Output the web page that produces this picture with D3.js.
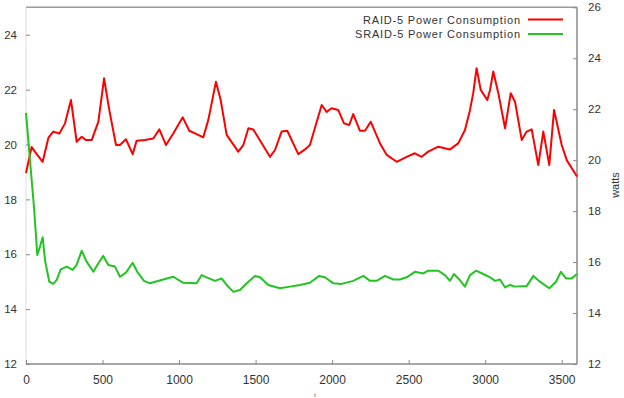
<!DOCTYPE html>
<html>
<head>
<meta charset="utf-8">
<script src="https://cdn.jsdelivr.net/npm/d3@7"></script>
<style>
    body { margin: 0; background: white; }
    text { font-family: "Liberation Sans", Arial, sans-serif; fill: #333; }
</style>
</head>
<body>
<div id="chart"></div>
<script>
// Power draw of the two arrays over the run.
const raidTime = [0, 37, 59, 109, 146, 178, 218, 255, 277, 294, 331, 364, 392, 429, 473, 510, 544, 588, 614, 653,
    697, 723, 777, 832, 871, 915, 962, 1024, 1067, 1115, 1158, 1191, 1241, 1272, 1311, 1387, 1420, 1453, 1485, 1594,
    1627, 1670, 1707, 1779, 1823, 1855, 1932, 1964, 1997, 2040, 2078, 2112, 2138, 2182, 2215, 2252, 2313, 2357, 2422,
    2487, 2541, 2585, 2628, 2694, 2770, 2824, 2868, 2901, 2922, 2944, 2971, 3014, 3032, 3053, 3086, 3130, 3167, 3195,
    3239, 3271, 3304, 3347, 3380, 3419, 3450, 3467, 3500, 3533, 3600]
const raidWatts = [18.96, 19.91, 19.73, 19.37, 20.24, 20.47, 20.40, 20.77, 21.26, 21.62, 20.10, 20.28, 20.16, 20.16,
    20.83, 22.41, 21.26, 19.98, 19.98, 20.19, 19.65, 20.14, 20.16, 20.22, 20.55, 19.98, 20.40, 20.99, 20.50, 20.38,
    20.26, 20.89, 22.29, 21.62, 20.35, 19.74, 19.98, 20.59, 20.55, 19.55, 19.80, 20.47, 20.50, 19.65, 19.82, 19.98,
    21.44, 21.19, 21.32, 21.26, 20.77, 20.71, 21.11, 20.50, 20.50, 20.83, 20.04, 19.62, 19.37, 19.55, 19.68, 19.55,
    19.74, 19.92, 19.82, 20.04, 20.53, 21.26, 21.87, 22.78, 21.99, 21.62, 21.99, 22.66, 21.87, 20.59, 21.87, 21.56,
    20.16, 20.47, 20.55, 19.25, 20.47, 19.25, 21.26, 20.83, 19.98, 19.43, 18.83]

const sraidTime = [0, 26, 52, 74, 91, 109, 124, 152, 178, 200, 227, 266, 305, 331, 364, 396, 440, 473, 505, 538, 581,
    614, 653, 697, 727, 771, 810, 897, 962, 1028, 1115, 1148, 1180, 1235, 1278, 1311, 1355, 1398, 1442, 1496, 1529,
    1583, 1659, 1725, 1790, 1855, 1916, 1953, 2008, 2063, 2138, 2204, 2248, 2291, 2346, 2400, 2443, 2487, 2541, 2596,
    2628, 2694, 2737, 2770, 2796, 2831, 2868, 2901, 2940, 2988, 3032, 3064, 3097, 3130, 3162, 3195, 3271, 3315, 3358,
    3419, 3463, 3495, 3528, 3565, 3600]
const sraidWatts = [21.15, 19.43, 17.73, 15.97, 16.27, 16.62, 15.79, 15.00, 14.92, 15.06, 15.45, 15.55, 15.43, 15.61,
    16.13, 15.73, 15.36, 15.67, 15.94, 15.61, 15.55, 15.18, 15.33, 15.69, 15.36, 15.03, 14.94, 15.08, 15.18, 14.96,
    14.94, 15.24, 15.16, 15.03, 15.12, 14.88, 14.63, 14.70, 14.94, 15.21, 15.16, 14.88, 14.76, 14.82, 14.88, 14.96,
    15.21, 15.16, 14.94, 14.92, 15.03, 15.21, 15.03, 15.03, 15.21, 15.08, 15.08, 15.16, 15.36, 15.30, 15.40, 15.40,
    15.24, 15.03, 15.28, 15.08, 14.82, 15.24, 15.40, 15.28, 15.16, 15.03, 15.08, 14.79, 14.88, 14.82, 14.84, 15.21,
    15.00, 14.76, 15.00, 15.36, 15.12, 15.12, 15.28]

const xTicks = [0, 500, 1000, 1500, 2000, 2500, 3000, 3500]
const yTicks = [12, 14, 16, 18, 20, 22, 24]
const y2Ticks = [12, 14, 16, 18, 20, 22, 24, 26]
const seriesNames = ['RAID-5 Power Consumption', 'SRAID-5 Power Consumption']
const seriesColors = ['#ff0000', '#22c422']

function getTranslateString(x, y) {
    return 'translate(' + x + ', ' + y + ')'
}

class PowerChart {
    constructor(width, height, divElementName) {
        this.width = width
        this.height = height
        this.divElementName = divElementName
        this.initialize()
    }

    initialize = () => {
        this.setAxesStartAndEnd()
        this.createSVGInstance()
        this.createScales()
        this.drawBorder()
        this.drawAxes()
        this.drawSeries(raidTime, raidWatts, seriesColors[0])
        this.drawSeries(sraidTime, sraidWatts, seriesColors[1])
        this.drawLegend()
        this.drawLabels()
    }

    setAxesStartAndEnd = () => {
        this.xAxisStart = 26
        this.xAxisEnd = 577
        this.yAxisStart = 364
        this.yAxisEnd = 7.3
    }

    createSVGInstance = () => {
        this.svg = d3.select(this.divElementName).append('svg').attr('width', this.width).attr('height', this.height)
    }

    createScales = () => {
        this.xScale = d3.scaleLinear().domain([0, 3600]).range([this.xAxisStart, this.xAxisEnd])
        this.yScale = d3.scaleLinear().domain([12, 25]).range([this.yAxisStart, this.yAxisEnd])
        this.y2Scale = d3.scaleLinear().domain([12, 26]).range([this.yAxisStart, this.yAxisEnd])
    }

    drawLine = (x1, x2, y1, y2, color, width) => {
        this.svg.append('line').attr('x1', x1).attr('x2', x2).attr('y1', y1).attr('y2', y2)
            .style('stroke', color).style('stroke-width', width)
    }

    drawBorder = () => {
        this.drawLine(this.xAxisStart, this.xAxisEnd, this.yAxisEnd, this.yAxisEnd, '#9a9a9a', 1.5)
        this.drawLine(this.xAxisStart, this.xAxisEnd, this.yAxisStart, this.yAxisStart, '#8a8a8a', 1.5)
        this.drawLine(this.xAxisStart, this.xAxisStart, this.yAxisEnd, this.yAxisStart, '#dddddd', 1)
        this.drawLine(this.xAxisEnd, this.xAxisEnd, this.yAxisEnd, this.yAxisStart, '#8a8a8a', 1.5)
    }

    styleAxis = (g, fontSize) => {
        g.select('.domain').remove()
        g.selectAll('.tick line').style('stroke', '#888')
        g.selectAll('.tick text').attr('font-size', fontSize).attr('font-family', null).style('fill', '#333')
    }

    drawAxes = () => {
        let xAxis = d3.axisBottom(this.xScale).tickValues(xTicks).tickFormat(d3.format('d')).tickSize(-4).tickPadding(11)
        this.svg.append('g').attr('transform', getTranslateString(0, this.yAxisStart)).call(xAxis)
            .call(g => this.styleAxis(g, 12))

        let yAxis = d3.axisLeft(this.yScale).tickValues(yTicks).tickSize(-4).tickPadding(9)
        this.svg.append('g').attr('transform', getTranslateString(this.xAxisStart, 0)).call(yAxis)
            .call(g => this.styleAxis(g, 11.5))

        let y2Axis = d3.axisRight(this.y2Scale).tickValues(y2Ticks).tickSize(-4).tickPadding(11)
        this.svg.append('g').attr('transform', getTranslateString(this.xAxisEnd, 0)).call(y2Axis)
            .call(g => this.styleAxis(g, 11.5))
    }

    drawSeries = (times, values, color) => {
        let points = times.map((t, i) => [t, values[i]])
        let line = d3.line().x(d => this.xScale(d[0])).y(d => this.yScale(d[1]))
        this.svg.append('path').datum(points).attr('d', line)
            .style('fill', 'none').style('stroke', color).style('stroke-width', 2).style('stroke-linejoin', 'round')
    }

    drawLegend = () => {
        let rows = [19.5, 34]
        for (let i = 0; i < seriesNames.length; i++) {
            let y = rows[i]
            this.svg.append('text').attr('x', 520).attr('y', y + 4).attr('text-anchor', 'end')
                .attr('font-size', 11).attr('textLength', i == 0 ? 157 : 165).attr('lengthAdjust', 'spacing')
                .text(seriesNames[i])
            this.drawLine(528, 563, y, y, seriesColors[i], 2)
        }
    }

    drawLabels = () => {
        this.svg.append('text').attr('transform', getTranslateString(619, 185) + ' rotate(-90)')
            .attr('text-anchor', 'middle').attr('font-size', 11).text('watts')
        // x label sits at the very bottom edge, only a speck of it shows
        this.svg.append('text').attr('x', 315).attr('y', 397).attr('text-anchor', 'middle')
            .attr('font-size', 5).text('t')
    }
}

new PowerChart(624, 398, '#chart')
</script>
</body>
</html>
